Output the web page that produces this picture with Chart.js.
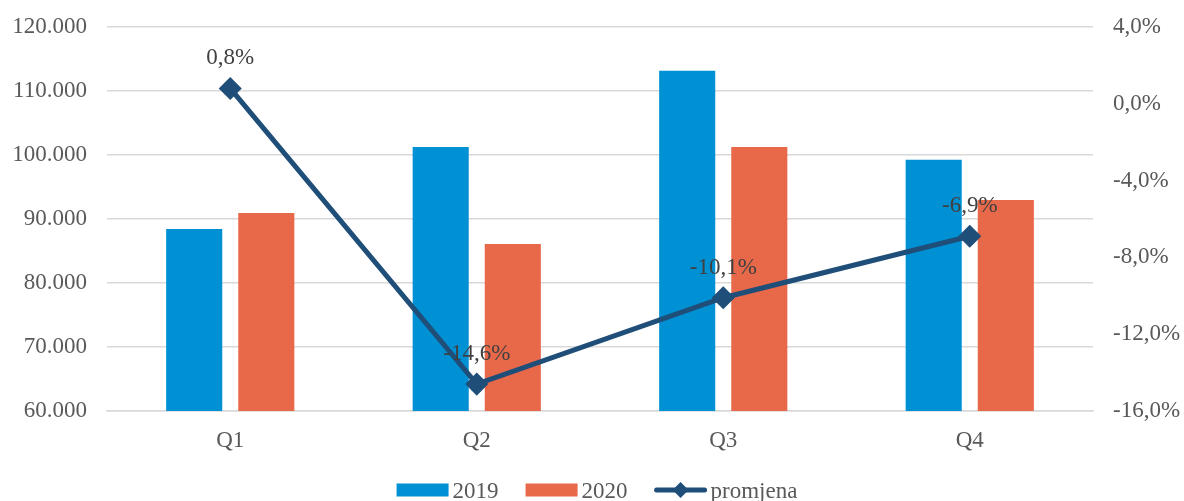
<!DOCTYPE html>
<html>
<head>
<meta charset="utf-8">
<script src="https://cdn.jsdelivr.net/npm/chart.js@4.4.0/dist/chart.umd.min.js"></script>
<style>
  html, body { margin: 0; padding: 0; background: #fff; }
  #wrap { width: 1184px; height: 501px; position: relative; }
</style>
</head>
<body>
<div id="wrap"><canvas id="myChart"></canvas></div>
<script>
// data
var quarters = ['Q1', 'Q2', 'Q3', 'Q4'];
var values2019 = [88440, 101250, 113150, 99250];
var values2020 = [90950, 86100, 101250, 92970];
var promjena = [0.8, -14.6, -10.1, -6.9];

var FONT = '"Liberation Serif", "Times New Roman", serif';
var TEXT = '#595959';

function fmtThousands(v) {
    return String(v).replace(/\B(?=(\d{3})+(?!\d))/g, '.');
}
function fmtPct(v) {
    return v.toFixed(1).replace('.', ',') + '%';
}

// labels above the line points
var pointLabels = {
    id: 'pointLabels',
    afterDatasetsDraw: function(chart) {
        var ctx = chart.ctx;
        var meta = chart.getDatasetMeta(2);
        ctx.save();
        ctx.font = '23px ' + FONT;
        ctx.fillStyle = '#404040';
        ctx.textAlign = 'center';
        ctx.textBaseline = 'middle';
        meta.data.forEach(function(pt, i) {
            ctx.fillText(fmtPct(promjena[i]), pt.x, pt.y - 30);
        });
        ctx.restore();
    }
};

// excel style legend at the bottom
var bottomLegend = {
    id: 'bottomLegend',
    afterDraw: function(chart) {
        var ctx = chart.ctx;
        var ds = chart.data.datasets;
        ctx.save();
        ctx.font = '23px ' + FONT;
        var sym = 52, gapText = 4, gapItem = 27;
        var widths = ds.map(function(d) { return sym + gapText + ctx.measureText(d.label).width; });
        var total = widths.reduce(function(a, b) { return a + b; }, 0) + gapItem * (ds.length - 1);
        var x = (chart.chartArea.left + chart.chartArea.right) / 2 - total / 2 - 3;
        var y = 490;
        ds.forEach(function(d, i) {
            if (d.type === 'line') {
                ctx.strokeStyle = d.borderColor;
                ctx.lineWidth = 5;
                ctx.lineCap = 'round';
                ctx.beginPath();
                ctx.moveTo(x + 2, y);
                ctx.lineTo(x + sym - 2, y);
                ctx.stroke();
                ctx.fillStyle = d.borderColor;
                ctx.beginPath();
                ctx.moveTo(x + sym / 2, y - 8);
                ctx.lineTo(x + sym / 2 + 8, y);
                ctx.lineTo(x + sym / 2, y + 8);
                ctx.lineTo(x + sym / 2 - 8, y);
                ctx.closePath();
                ctx.fill();
            } else {
                ctx.fillStyle = d.backgroundColor;
                ctx.fillRect(x, y - 6.5, sym, 13);
            }
            ctx.fillStyle = TEXT;
            ctx.textAlign = 'left';
            ctx.textBaseline = 'middle';
            ctx.fillText(d.label, x + sym + gapText, y + 2);
            x += widths[i] + gapItem;
        });
        ctx.restore();
    }
};

function fixY(width) {
    return function(s) {
        s.width = width;
        s.paddingTop = 0;
        s.paddingBottom = 0;
    };
}

var context = document.getElementById('myChart');
var graph = new Chart(context, {
    type: 'bar',
    data: {
        labels: quarters,
        datasets: [
            {
                label: '2019',
                data: values2019,
                backgroundColor: '#0090D4',
                categoryPercentage: 0.585,
                barPercentage: 0.778,
                yAxisID: 'y',
                order: 2
            },
            {
                label: '2020',
                data: values2020,
                backgroundColor: '#E8684A',
                categoryPercentage: 0.585,
                barPercentage: 0.778,
                yAxisID: 'y',
                order: 2
            },
            {
                type: 'line',
                label: 'promjena',
                data: promjena,
                borderColor: '#1F4E79',
                backgroundColor: '#1F4E79',
                borderWidth: 5,
                pointStyle: 'rectRot',
                pointRadius: 8,
                pointHoverRadius: 8,
                tension: 0,
                yAxisID: 'y1',
                order: 1
            }
        ]
    },
    options: {
        responsive: true,
        maintainAspectRatio: false,
        animation: false,
        layout: { padding: { top: 27, bottom: 50, left: 0, right: 0 } },
        plugins: {
            legend: { display: false },
            tooltip: { enabled: false }
        },
        scales: {
            x: {
                grid: { display: false, drawTicks: false },
                border: { display: true, color: '#D9D9D9', width: 1.5 },
                ticks: { color: TEXT, font: { family: FONT, size: 23 }, padding: 16 },
                afterFit: function(s) { s.height = 40; }
            },
            y: {
                position: 'left',
                min: 60000,
                max: 120000,
                ticks: {
                    stepSize: 10000,
                    color: TEXT,
                    font: { family: FONT, size: 23 },
                    padding: 20,
                    callback: function(v) { return fmtThousands(v); }
                },
                grid: { color: '#D9D9D9', lineWidth: 1.5, drawTicks: false },
                border: { display: false },
                afterFit: fixY(107)
            },
            y1: {
                position: 'right',
                min: -16,
                max: 4,
                ticks: {
                    stepSize: 4,
                    color: TEXT,
                    font: { family: FONT, size: 23 },
                    padding: 20,
                    callback: function(v) { return fmtPct(v); }
                },
                grid: { display: false, drawTicks: false },
                border: { display: false },
                afterFit: fixY(91)
            }
        }
    },
    plugins: [pointLabels, bottomLegend]
});
</script>
</body>
</html>
